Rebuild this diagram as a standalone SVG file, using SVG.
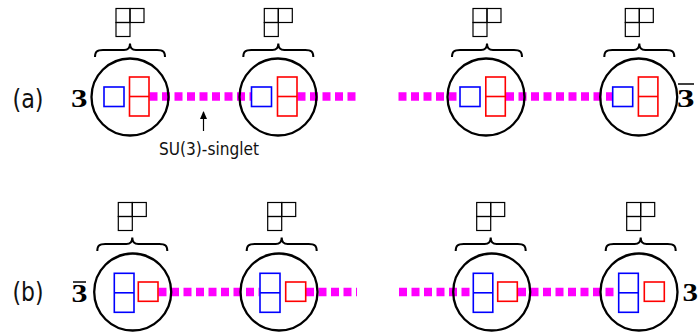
<svg xmlns="http://www.w3.org/2000/svg" xmlns:xlink="http://www.w3.org/1999/xlink" width="700" height="333" viewBox="0 0 700 333">
<style>
.ring{fill:none;stroke:#000;stroke-width:2.3}
.b{fill:none;stroke:#0000ff;stroke-width:1.6}
.r{fill:none;stroke:#ff0000;stroke-width:1.6}
.yt{fill:none;stroke:#000;stroke-width:1.2}
.brace{fill:none;stroke:#000;stroke-width:2}
.dash{fill:none;stroke:#ff00ff;stroke-width:8.5;stroke-dasharray:8 4.5}
.lbl{font-family:"DejaVu Sans Condensed","DejaVu Sans",sans-serif;fill:#111}
.rep{font-family:"Liberation Serif",serif;font-weight:bold;font-size:25px;fill:#000}
.bar{stroke:#000;stroke-width:1.5}
</style>
<defs>
<g id="tab">
<rect class="yt" x="-14" y="0" width="14" height="14"/>
<rect class="yt" x="0" y="0" width="14" height="14"/>
<rect class="yt" x="-14" y="14" width="14" height="14"/>
<path class="brace" d="M-35,48.5 C-35,43 -33,41.5 -27,41.5 L-6,41.5 C-2,41.5 0,39 0,35 C0,39 2,41.5 6,41.5 L27,41.5 C33,41.5 35,43 35,48.5"/>
</g>
<marker id="ah" markerWidth="9" markerHeight="9" refX="7" refY="4.5" orient="auto" markerUnits="userSpaceOnUse">
<path d="M0,1 L8,4.5 L0,8 Z" fill="#000"/>
</marker>
</defs>

<g id="connectors">
<path class="dash" d="M149.5,96.5 H251"/>
<path class="dash" d="M297.5,96.5 H356"/>
<path class="dash" d="M398.5,96.5 H460"/>
<path class="dash" d="M506,96.5 H612.5"/>
<path class="dash" d="M158.5,292 H259.5"/>
<path class="dash" d="M306,292 H357"/>
<path class="dash" d="M399,292 H472"/>
<path class="dash" d="M518,292 H618.5"/>
<line x1="203.5" y1="131" x2="203.5" y2="112" stroke="#000" stroke-width="1.2" marker-end="url(#ah)"/>
</g>

<g id="labels">
<text class="lbl" x="12.5" y="108" font-size="27" textLength="31" lengthAdjust="spacingAndGlyphs">(a)</text>
<text class="lbl" x="12.5" y="300.5" font-size="27" textLength="31" lengthAdjust="spacingAndGlyphs">(b)</text>
<text class="lbl" x="159" y="155" font-size="17.5" textLength="100" lengthAdjust="spacingAndGlyphs" fill="#222">SU(3)-singlet</text>
<text class="rep" x="71" y="107.3" textLength="16.5" lengthAdjust="spacingAndGlyphs">3</text>
<text class="rep" x="677" y="107.3" textLength="17.5" lengthAdjust="spacingAndGlyphs">3</text>
<line class="bar" x1="678" y1="84" x2="694" y2="84"/>
<text class="rep" x="71.5" y="301.7" textLength="16" lengthAdjust="spacingAndGlyphs">3</text>
<line class="bar" x1="73" y1="282" x2="86" y2="282"/>
<text class="rep" x="682.5" y="300.7" textLength="15.5" lengthAdjust="spacingAndGlyphs">3</text>
</g>

<g id="a1">
<use xlink:href="#tab" x="130" y="8.5"/>
<circle class="ring" cx="130" cy="97" r="38.5"/>
<rect class="b" x="104" y="87" width="20" height="19.5"/>
<rect class="r" x="129.5" y="77" width="19.5" height="39"/>
<line class="r" x1="129.5" y1="96.5" x2="149" y2="96.5"/>
</g>
<g id="a2">
<use xlink:href="#tab" x="278.3" y="8.5"/>
<circle class="ring" cx="278" cy="97" r="38.5"/>
<rect class="b" x="251.5" y="87" width="20" height="19.5"/>
<rect class="r" x="277.5" y="77" width="19.5" height="39"/>
<line class="r" x1="277.5" y1="96.5" x2="297" y2="96.5"/>
</g>
<g id="a3">
<use xlink:href="#tab" x="487" y="8.5"/>
<circle class="ring" cx="486" cy="97" r="38.5"/>
<rect class="b" x="460" y="87" width="20" height="19.5"/>
<rect class="r" x="485.8" y="77" width="19.5" height="39"/>
<line class="r" x1="485.8" y1="96.5" x2="505.3" y2="96.5"/>
</g>
<g id="a4">
<use xlink:href="#tab" x="639.3" y="8.5"/>
<circle class="ring" cx="638.7" cy="97" r="38.5"/>
<rect class="b" x="612.7" y="87" width="20" height="19.5"/>
<rect class="r" x="638.4" y="77" width="19.5" height="39"/>
<line class="r" x1="638.4" y1="96.5" x2="657.9" y2="96.5"/>
</g>

<g id="b1">
<use xlink:href="#tab" x="132.3" y="202.5"/>
<circle class="ring" cx="132.7" cy="292" r="38.5"/>
<rect class="b" x="114.3" y="273.3" width="19.7" height="39"/>
<line class="b" x1="114.3" y1="292.8" x2="134" y2="292.8"/>
<rect class="r" x="138.3" y="282" width="19.7" height="19.3"/>
</g>
<g id="b2">
<use xlink:href="#tab" x="281.7" y="202.5"/>
<circle class="ring" cx="279" cy="292" r="38.5"/>
<rect class="b" x="260" y="273.3" width="20" height="39"/>
<line class="b" x1="260" y1="292.8" x2="280" y2="292.8"/>
<rect class="r" x="285.7" y="282" width="20" height="19.3"/>
</g>
<g id="b3">
<use xlink:href="#tab" x="490.7" y="202.5"/>
<circle class="ring" cx="491.7" cy="292" r="38.5"/>
<rect class="b" x="473.3" y="273.3" width="19.5" height="39"/>
<line class="b" x1="473.3" y1="292.8" x2="492.8" y2="292.8"/>
<rect class="r" x="497.7" y="282" width="19.6" height="19.3"/>
</g>
<g id="b4">
<use xlink:href="#tab" x="640.7" y="202.5"/>
<circle class="ring" cx="639" cy="292" r="38.5"/>
<rect class="b" x="618.7" y="273.3" width="19.6" height="39"/>
<line class="b" x1="618.7" y1="292.8" x2="638.3" y2="292.8"/>
<rect class="r" x="644.3" y="282" width="20" height="19.3"/>
</g>
</svg>
